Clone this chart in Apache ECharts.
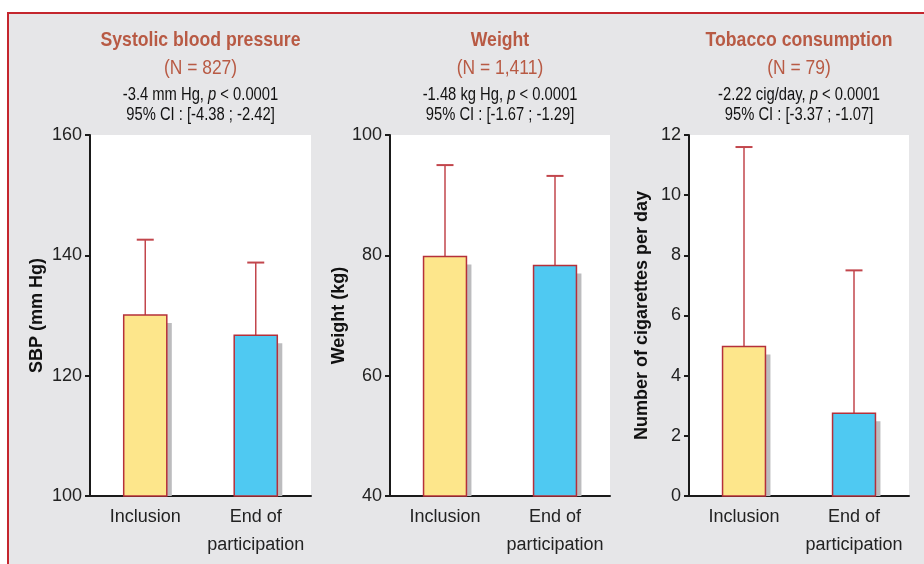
<!DOCTYPE html>
<html>
<head>
<meta charset="utf-8">
<script src="https://cdn.jsdelivr.net/npm/echarts@6/dist/echarts.min.js"></script>
<style>
  html, body { margin: 0; padding: 0; background: #fff; }
  #main { width: 924px; height: 564px; }
</style>
</head>
<body>
<div id="main"></div>
<script>
// data
var categories = ['Inclusion', 'End of\nparticipation'];
var sbpMeans = [130.1, 126.7];
var sbpUpper = [142.6, 138.8];
var weightMeans = [79.8, 78.3];
var weightUpper = [95.0, 93.2];
var tobaccoMeans = [4.97, 2.75];
var tobaccoUpper = [11.6, 7.5];

var panelTitles = ['Systolic blood pressure', 'Weight', 'Tobacco consumption'];
var panelN = ['(N = 827)', '(N = 1,411)', '(N = 79)'];
var panelDiff = ['-3.4 mm Hg, ', '-1.48 kg Hg, ', '-2.22 cig/day, '];
var panelCI = ['95% CI : [-4.38 ; -2.42]', '95% CI : [-1.67 ; -1.29]', '95% CI : [-3.37 ; -1.07]'];
var axisNames = ['SBP (mm Hg)', 'Weight (kg)', 'Number of cigarettes per day'];
var yMin = [100, 40, 0];
var yMax = [160, 100, 12];
var yStep = [20, 20, 2];

var barColors = ['#fde68b', '#4fc9f2'];
var FONT = '"Liberation Sans", Arial, sans-serif';
var TITLE_COLOR = '#b85a44';

var means = [sbpMeans, weightMeans, tobaccoMeans];
var uppers = [sbpUpper, weightUpper, tobaccoUpper];
var gridLeft = [90, 390, 689];
var gridWidth = [221, 220, 220];
var nameGaps = [44, 40, 38];

var chart = echarts.init(document.getElementById('main'));

function makeRender(p) {
  return function (params, api) {
    var x = api.value(0);
    var v = api.value(1);
    var hi = api.value(2);
    var top = api.coord([x, v]);
    var base = api.coord([x, yMin[p]]);
    var up = api.coord([x, hi]);
    var w = api.size([1, 0])[0] * 0.39;
    var h = base[1] - top[1];
    return {
      type: 'group',
      children: [
        { type: 'rect', shape: { x: top[0] - w / 2 + 5, y: top[1] + 8, width: w, height: h - 8 },
          style: { fill: '#bcbcbe' } },
        { type: 'line', shape: { x1: top[0], y1: top[1], x2: up[0], y2: up[1] },
          style: { stroke: '#c2464c', lineWidth: 1.5 } },
        { type: 'line', shape: { x1: up[0] - 8.5, y1: up[1], x2: up[0] + 8.5, y2: up[1] },
          style: { stroke: '#c2464c', lineWidth: 2 } },
        { type: 'rect', shape: { x: top[0] - w / 2, y: top[1], width: w, height: h },
          style: { fill: barColors[params.dataIndex], stroke: '#b5303a', lineWidth: 1.5 } }
      ]
    };
  };
}

var grids = [], xAxes = [], yAxes = [], series = [], texts = [];
for (var p = 0; p < 3; p++) {
  grids.push({ left: gridLeft[p], width: gridWidth[p], top: 135, height: 361,
    show: true, backgroundColor: '#fff', borderWidth: 0 });
  xAxes.push({
    type: 'category', gridIndex: p, data: categories,
    axisLine: { lineStyle: { color: '#1a1a1a', width: 2 } },
    axisTick: { length: 6, lineStyle: { color: '#1a1a1a', width: 2 } },
    axisLabel: { interval: 0, margin: 7, color: '#222', fontFamily: FONT, fontSize: 18, lineHeight: 28 }
  });
  yAxes.push({
    type: 'value', gridIndex: p, min: yMin[p], max: yMax[p], interval: yStep[p],
    name: axisNames[p], nameLocation: 'middle', nameGap: nameGaps[p],
    nameTextStyle: { fontFamily: FONT, fontWeight: 'bold', fontSize: 18, color: '#111' },
    axisLine: { show: true, lineStyle: { color: '#1a1a1a', width: 2 } },
    axisTick: { show: true, length: 5, lineStyle: { color: '#1a1a1a', width: 2 } },
    splitLine: { show: false },
    axisLabel: { margin: 8, color: '#222', fontFamily: FONT, fontSize: 18 }
  });
  var data = means[p].map(function (m, i) { return [i, m, uppers[p][i]]; });
  series.push({
    type: 'custom', xAxisIndex: p, yAxisIndex: p, clip: false,
    renderItem: makeRender(p), data: data,
    encode: { x: 0, y: [1, 2] }
  });
  var cx = gridLeft[p] + gridWidth[p] / 2;
  texts.push({ type: 'text', x: cx, y: 40, scaleX: 0.84, style: { text: panelTitles[p], fill: TITLE_COLOR,
    font: 'bold 21px ' + FONT, align: 'center', verticalAlign: 'middle' } });
  texts.push({ type: 'text', x: cx, y: 68, scaleX: 0.83, style: { text: panelN[p], fill: TITLE_COLOR,
    font: '21px ' + FONT, align: 'center', verticalAlign: 'middle' } });
  texts.push({ type: 'text', x: cx, y: 95, scaleX: 0.82, style: {
    text: '{n|' + panelDiff[p] + '}{i|p}{n| < 0.0001}',
    rich: {
      n: { fontFamily: FONT, fontSize: 18, fill: '#111' },
      i: { fontFamily: FONT, fontSize: 18, fontStyle: 'italic', fill: '#111' }
    },
    align: 'center', verticalAlign: 'middle' } });
  texts.push({ type: 'text', x: cx, y: 115, scaleX: 0.82, style: { text: panelCI[p], fill: '#111',
    font: '18px ' + FONT, align: 'center', verticalAlign: 'middle' } });
}

chart.setOption({
  animation: false,
  backgroundColor: '#fff',
  graphic: [{ type: 'rect', z: -10, shape: { x: 8, y: 13, width: 940, height: 600 },
    style: { fill: '#e6e6e8', stroke: '#c4262e', lineWidth: 2 } }].concat(texts),
  grid: grids,
  xAxis: xAxes,
  yAxis: yAxes,
  series: series
});
window.addEventListener('resize', function () { chart.resize(); });
</script>
</body>
</html>
